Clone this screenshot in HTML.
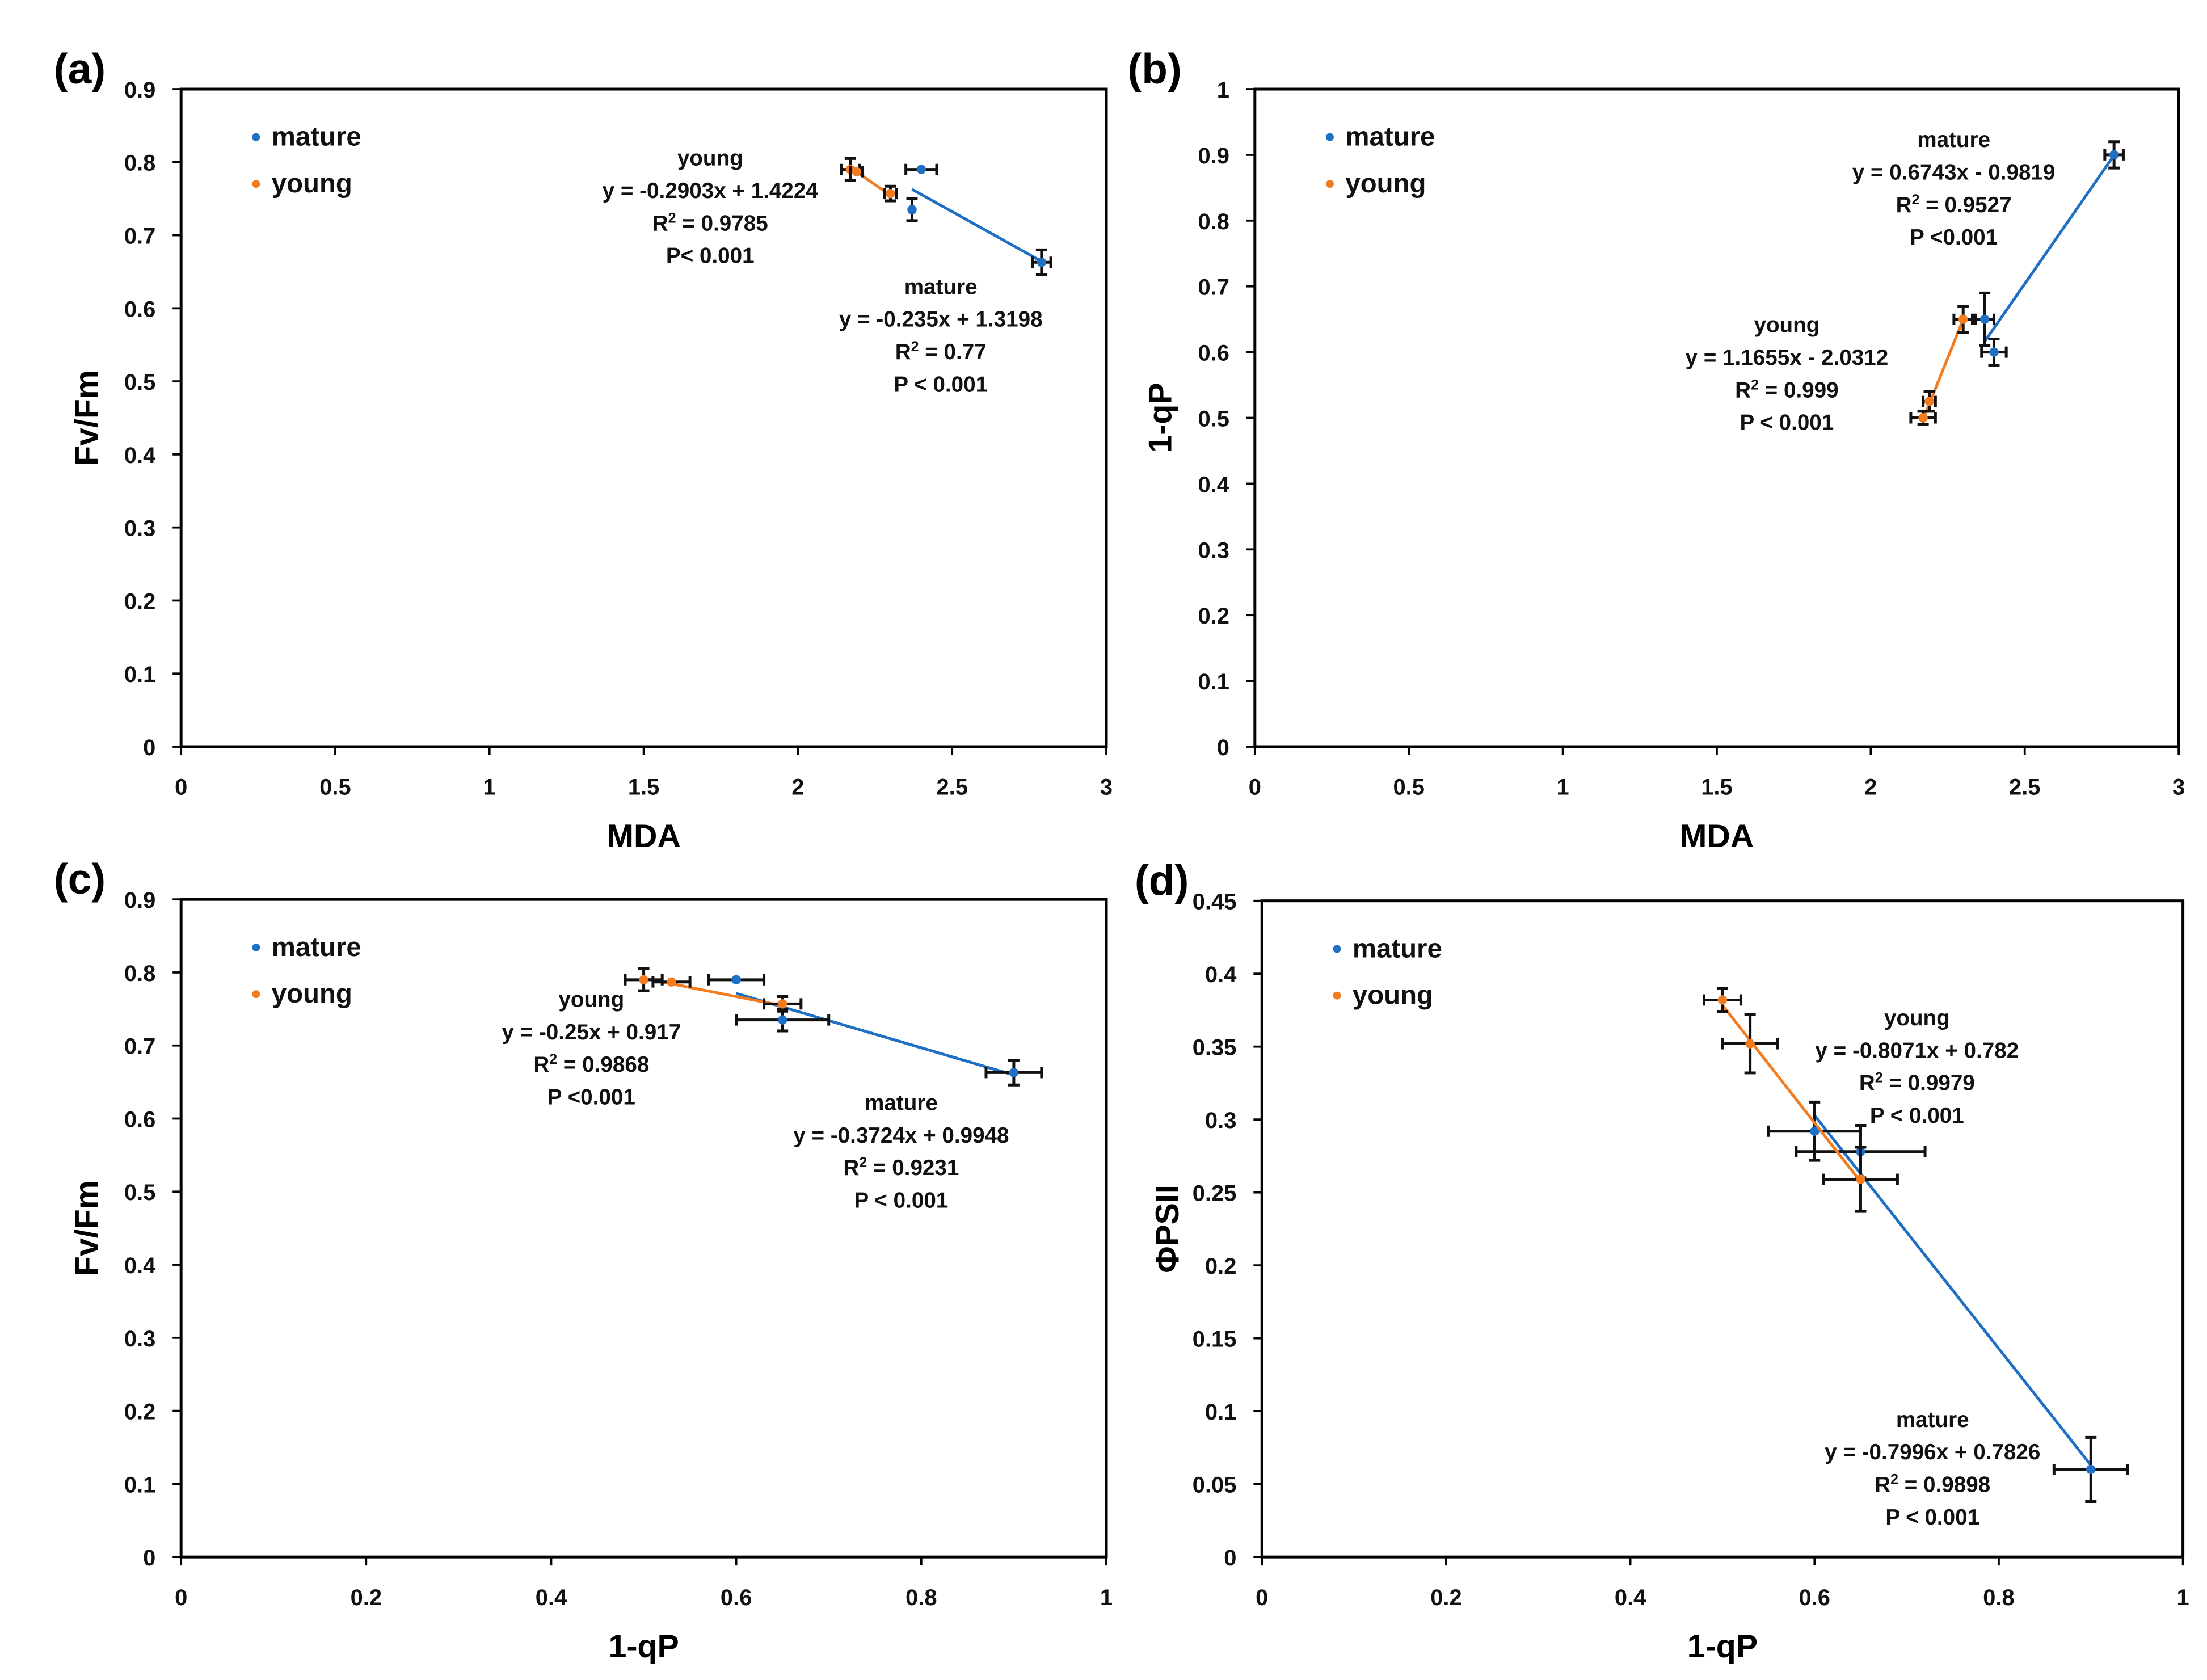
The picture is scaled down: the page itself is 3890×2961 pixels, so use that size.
<!DOCTYPE html>
<html><head><meta charset="utf-8"><style>
html,body{margin:0;padding:0;background:#fff;}
svg{display:block;font-family:"Liberation Sans",sans-serif;}
</style></head><body>
<svg id="fig" xmlns="http://www.w3.org/2000/svg" width="3890" height="2961" viewBox="0 0 1560 1188" preserveAspectRatio="none"></svg>
<script>
// Panel (a): Fv/Fm vs MDA
const aMatureX=[2.40,2.37,2.79], aMatureY=[0.79,0.735,0.663], aMatureXe=[0.05,0,0.03], aMatureYe=[0,0.015,0.017];
const aYoungX=[2.17,2.19,2.30], aYoungY=[0.79,0.787,0.757], aYoungXe=[0.03,0.02,0.02], aYoungYe=[0.015,0,0.01];
const aMatureFit=[-0.235,1.3198,2.37,2.79], aYoungFit=[-0.2903,1.4224,2.17,2.30];
// Panel (b): 1-qP vs MDA
const bMatureX=[2.37,2.40,2.79], bMatureY=[0.65,0.60,0.90], bMatureXe=[0.03,0.04,0.03], bMatureYe=[0.04,0.02,0.02];
const bYoungX=[2.17,2.19,2.30], bYoungY=[0.50,0.525,0.65], bYoungXe=[0.04,0.02,0.03], bYoungYe=[0.01,0.015,0.02];
const bMatureFit=[0.6743,-0.9819,2.37,2.79], bYoungFit=[1.1655,-2.0312,2.17,2.30];
// Panel (c): Fv/Fm vs 1-qP
const cMatureX=[0.60,0.65,0.90], cMatureY=[0.79,0.735,0.663], cMatureXe=[0.03,0.05,0.03], cMatureYe=[0,0.015,0.017];
const cYoungX=[0.50,0.53,0.65], cYoungY=[0.79,0.787,0.757], cYoungXe=[0.02,0.02,0.02], cYoungYe=[0.015,0,0.01];
const cMatureFit=[-0.3724,0.9948,0.6,0.9], cYoungFit=[-0.25,0.917,0.5,0.65];
// Panel (d): PhiPSII vs 1-qP
const dMatureX=[0.60,0.65,0.90], dMatureY=[0.292,0.278,0.06], dMatureXe=[0.05,0.07,0.04], dMatureYe=[0.02,0.018,0.022];
const dYoungX=[0.50,0.53,0.65], dYoungY=[0.382,0.352,0.259], dYoungXe=[0.02,0.03,0.04], dYoungYe=[0.008,0.02,0.022];
const dMatureFit=[-0.7996,0.7826,0.6,0.9], dYoungFit=[-0.8071,0.782,0.5,0.65];
// Tick labels
const xTicksMDA=["0","0.5","1","1.5","2","2.5","3"];
const xTicksQP=["0","0.2","0.4","0.6","0.8","1"];
const yTicks09=["0","0.1","0.2","0.3","0.4","0.5","0.6","0.7","0.8","0.9"];
const yTicks1=["0","0.1","0.2","0.3","0.4","0.5","0.6","0.7","0.8","0.9","1"];
const yTicks045=["0","0.05","0.1","0.15","0.2","0.25","0.3","0.35","0.4","0.45"];

const svg=document.getElementById('fig');
const NS='http://www.w3.org/2000/svg';
function mk(tag,attrs,parent){const e=document.createElementNS(NS,tag);for(const k in attrs)e.setAttribute(k,attrs[k]);(parent||svg).appendChild(e);return e;}
const BLUE='#1f6fc5', ORANGE='#f47c20';

function panel(id,box,xt,yt,xTitle,yTitle,series,annots){
  const g=mk('g',{});
  
  
  const [L,R,T,B]=box;
  const xmin=+xt[0],xmax=+xt[xt.length-1],ymin=+yt[0],ymax=+yt[yt.length-1];
  const X=v=>L+(v-xmin)/(xmax-xmin)*(R-L);
  const Y=v=>B-(v-ymin)/(ymax-ymin)*(B-T);
  const frame=mk('rect',{x:L,y:T,width:R-L,height:B-T,fill:'none',stroke:'#000','stroke-width':2},g);
  
  
  xt.forEach(t=>{const x=X(+t);mk('line',{x1:x,x2:x,y1:B,y2:B+6,stroke:'#000','stroke-width':1.5},g);
    const tx=mk('text',{x:x,y:B+34,'text-anchor':'middle','font-size':16,'font-weight':'bold',fill:'#111'},g);tx.textContent=t;
    
    });
  yt.forEach(t=>{const y=Y(+t);mk('line',{x1:L-6,x2:L,y1:y,y2:y,stroke:'#000','stroke-width':1.5},g);
    const tx=mk('text',{x:L-18,y:y+6,'text-anchor':'end','font-size':16,'font-weight':'bold',fill:'#111'},g);tx.textContent=t;
    
    });
  const xtl=mk('text',{x:(L+R)/2,y:B+71,'text-anchor':'middle','font-size':23,'font-weight':'bold'},g);xtl.textContent=xTitle;
  
  
  const yx=L-59,yy=(T+B)/2;
  const ytl=mk('text',{x:yx,y:yy,'text-anchor':'middle','font-size':23,'font-weight':'bold',transform:`rotate(-90 ${yx} ${yy})`},g);ytl.textContent=yTitle;
  
  
  const lab=mk('text',{x:L-90,y:T-4,'font-size':30,'font-weight':'bold'},g);lab.textContent='('+id+')';
  
  
  [['mature',BLUE],['young',ORANGE]].forEach((s,i)=>{
    const ly=T+34+i*33;
    const c=mk('circle',{cx:L+53,cy:ly,r:2.8,fill:s[1]},g);
    
    
    const t=mk('text',{x:L+64,y:ly+6,'font-size':19,'font-weight':'bold',fill:'#111'},g);t.textContent=s[0];
    
    
  });
  series.forEach(s=>{
    const [xs,ys,xe,ye,fit,col,name]=s;
    const ln=mk('line',{x1:X(fit[2]),y1:Y(fit[0]*fit[2]+fit[1]),x2:X(fit[3]),y2:Y(fit[0]*fit[3]+fit[1]),stroke:col,'stroke-width':2},g);
    
    
    xs.forEach((xv,i)=>{
      const cx=X(xv),cy=Y(ys[i]);
      if(xe[i]>0){const x1=X(xv-xe[i]),x2=X(xv+xe[i]);
        const eb=mk('path',{d:`M${x1} ${cy}H${x2}M${x1} ${cy-4}V${cy+4}M${x2} ${cy-4}V${cy+4}`,stroke:'#111','stroke-width':2,fill:'none'},g);
        
        }
      if(ye[i]>0){const y1=Y(ys[i]-ye[i]),y2=Y(ys[i]+ye[i]);
        const eb=mk('path',{d:`M${cx} ${y1}V${y2}M${cx-4} ${y1}H${cx+4}M${cx-4} ${y2}H${cx+4}`,stroke:'#111','stroke-width':2,fill:'none'},g);
        
        }
      const p=mk('circle',{cx:cx,cy:cy,r:3.3,fill:col},g);
      
      
    });
  });
  annots.forEach(a=>{
    const [cx,y0,lines,name]=a;
    const t=mk('text',{x:cx,y:y0,'text-anchor':'middle','font-size':15.5,'font-weight':'bold',fill:'#111'},g);
    
    
    lines.forEach((l,i)=>{const ts=mk('tspan',{x:cx,dy:i?23:0},t);
      if(l.startsWith('R2')){ts.textContent='R';const s=mk('tspan',{'baseline-shift':'super','font-size':10},ts);s.textContent='2';const r=mk('tspan',{},ts);r.textContent=l.slice(2);}
      else ts.textContent=l;});
  });
}

panel('a',[128,782,63,528],xTicksMDA,yTicks09,'MDA','Fv/Fm',
  [[aMatureX,aMatureY,aMatureXe,aMatureYe,aMatureFit,BLUE,'mature'],[aYoungX,aYoungY,aYoungXe,aYoungYe,aYoungFit,ORANGE,'young']],
  [[502,117,['young','y = -0.2903x + 1.4224','R2 = 0.9785','P< 0.001'],'young'],[665,208,['mature','y = -0.235x + 1.3198','R2 = 0.77','P < 0.001'],'mature']]);
panel('b',[887,1540,63,528],xTicksMDA,yTicks1,'MDA','1-qP',
  [[bMatureX,bMatureY,bMatureXe,bMatureYe,bMatureFit,BLUE,'mature'],[bYoungX,bYoungY,bYoungXe,bYoungYe,bYoungFit,ORANGE,'young']],
  [[1381,104,['mature','y = 0.6743x - 0.9819','R2 = 0.9527','P <0.001'],'mature'],[1263,235,['young','y = 1.1655x - 2.0312','R2 = 0.999','P < 0.001'],'young']]);
panel('c',[128,782,636,1101],xTicksQP,yTicks09,'1-qP','Fv/Fm',
  [[cMatureX,cMatureY,cMatureXe,cMatureYe,cMatureFit,BLUE,'mature'],[cYoungX,cYoungY,cYoungXe,cYoungYe,cYoungFit,ORANGE,'young']],
  [[418,712,['young','y = -0.25x + 0.917','R2 = 0.9868','P <0.001'],'young'],[637,785,['mature','y = -0.3724x + 0.9948','R2 = 0.9231','P < 0.001'],'mature']]);
panel('d',[892,1543,637,1101],xTicksQP,yTicks045,'1-qP','ΦPSII',
  [[dMatureX,dMatureY,dMatureXe,dMatureYe,dMatureFit,BLUE,'mature'],[dYoungX,dYoungY,dYoungXe,dYoungYe,dYoungFit,ORANGE,'young']],
  [[1355,725,['young','y = -0.8071x + 0.782','R2 = 0.9979','P < 0.001'],'young'],[1366,1009,['mature','y = -0.7996x + 0.7826','R2 = 0.9898','P < 0.001'],'mature']]);
</script>
</body></html>
